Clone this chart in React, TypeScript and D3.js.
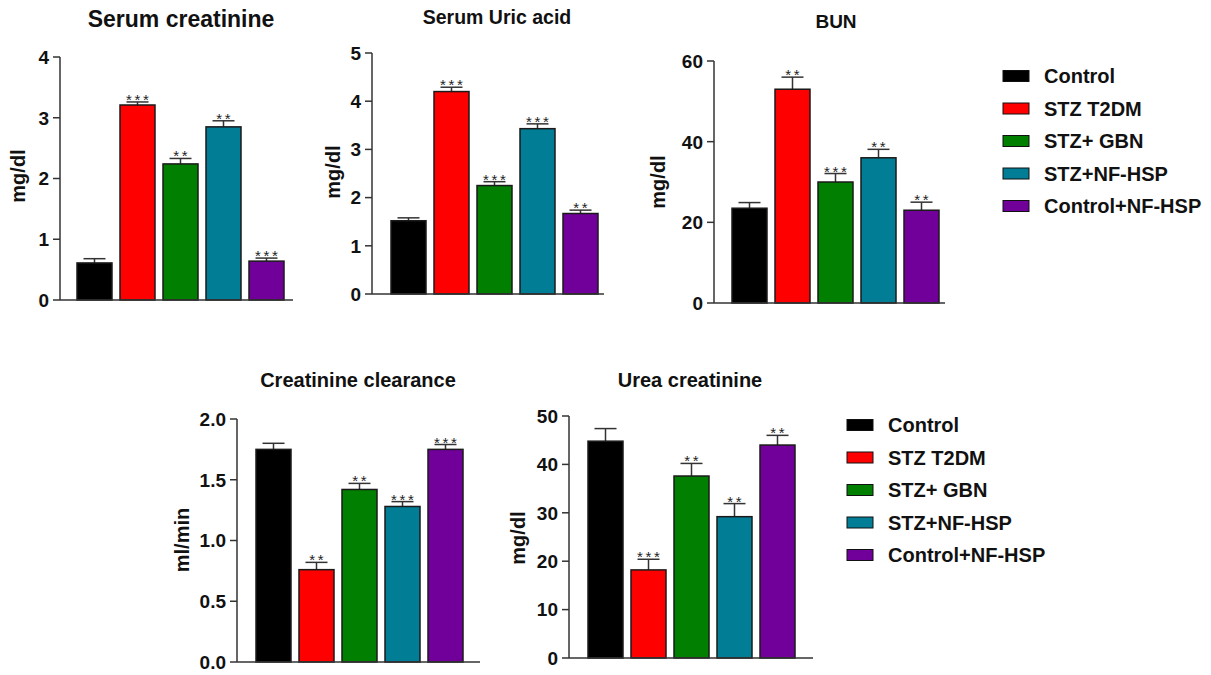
import React from "react";
import * as d3 from "d3";

const groups = ["Control", "STZ T2DM", "STZ+ GBN", "STZ+NF-HSP", "Control+NF-HSP"];
const groupColors = ["#000000", "#FF0000", "#007F00", "#017D96", "#71009A"];

const creatMeans = [0.61, 3.21, 2.24, 2.85, 0.64];
const creatErr = [0.07, 0.05, 0.09, 0.1, 0.05];
const creatStars = ["", "***", "**", "**", "***"];

const uricMeans = [1.52, 4.2, 2.25, 3.43, 1.67];
const uricErr = [0.06, 0.09, 0.08, 0.1, 0.07];
const uricStars = ["", "***", "***", "***", "**"];

const bunMeans = [23.5, 53, 30, 36, 23];
const bunErr = [1.4, 3, 2.1, 2.1, 2];
const bunStars = ["", "**", "***", "**", "**"];

const clearMeans = [1.75, 0.76, 1.42, 1.28, 1.75];
const clearErr = [0.05, 0.06, 0.05, 0.04, 0.04];
const clearStars = ["", "**", "**", "***", "***"];

const ureaMeans = [44.8, 18.2, 37.6, 29.2, 44];
const ureaErr = [2.6, 2.2, 2.6, 2.7, 2];
const ureaStars = ["", "***", "**", "**", "**"];

const creatTicks = [0, 1, 2, 3, 4];
const uricTicks = [0, 1, 2, 3, 4, 5];
const bunTicks = [0, 20, 40, 60];
const clearTicks = [0, 0.5, 1.0, 1.5, 2.0];
const ureaTicks = [0, 10, 20, 30, 40, 50];

const FONT = "'Liberation Sans', Arial, sans-serif";

type PanelProps = {
  title: string;
  titleSize: number;
  titleX: number;
  titleY: number;
  yLabel: string;
  yLabelX: number;
  yLabelY: number;
  means: number[];
  errs: number[];
  stars: string[];
  ticks: number[];
  fmt: (v: number) => string;
  axisX: number;
  axisEnd: number;
  barStart: number;
  y0: number;
  yTopPx: number;
};

function Panel(p: PanelProps) {
  const maxV = p.ticks[p.ticks.length - 1];
  const y = d3.scaleLinear().domain([0, maxV]).range([p.y0, p.yTopPx]);
  const x = d3
    .scaleBand<string>()
    .domain(groups)
    .range([p.barStart - 4, p.barStart + 211])
    .paddingInner(8 / 43)
    .paddingOuter(4 / 43);
  const bw = x.bandwidth();
  const axisColor = "#333";
  return (
    <g>
      <text
        x={p.titleX}
        y={p.titleY}
        textAnchor="middle"
        fontFamily={FONT}
        fontWeight="bold"
        fontSize={p.titleSize}
        fill="#111"
      >
        {p.title}
      </text>
      <text
        transform={`translate(${p.yLabelX},${p.yLabelY}) rotate(-90)`}
        textAnchor="middle"
        fontFamily={FONT}
        fontWeight="bold"
        fontSize={20}
        fill="#111"
      >
        {p.yLabel}
      </text>
      {p.means.map((m, i) => {
        const g = groups[i];
        const bx = x(g)!;
        const top = y(m);
        const et = y(m + p.errs[i]);
        const cx = bx + bw / 2;
        return (
          <g key={g}>
            <line x1={cx} x2={cx} y1={top} y2={et} stroke="#333" strokeWidth={1.5} />
            <line x1={cx - 11} x2={cx + 11} y1={et} y2={et} stroke="#333" strokeWidth={1.5} />
            <rect
              x={bx}
              y={top}
              width={bw}
              height={p.y0 - top}
              fill={groupColors[i]}
              stroke="#1a1a1a"
              strokeWidth={1.5}
            />
            {p.stars[i] && (
              <text
                x={cx + 1.3}
                y={et + 3}
                textAnchor="middle"
                fontFamily={FONT}
                fontSize={15}
                letterSpacing={2.7}
                fill="#222"
              >
                {p.stars[i]}
              </text>
            )}
          </g>
        );
      })}
      <line x1={p.axisX} x2={p.axisEnd} y1={p.y0} y2={p.y0} stroke={axisColor} strokeWidth={1.5} />
      <line x1={p.axisX} x2={p.axisX} y1={p.y0} y2={p.yTopPx} stroke={axisColor} strokeWidth={1.5} />
      {p.ticks.map((t) => (
        <g key={t}>
          <line x1={p.axisX - 7} x2={p.axisX} y1={y(t)} y2={y(t)} stroke={axisColor} strokeWidth={1.5} />
          <text
            x={p.axisX - 11}
            y={y(t)}
            dy="0.36em"
            textAnchor="end"
            fontFamily={FONT}
            fontWeight="bold"
            fontSize={19}
            fill="#111"
          >
            {p.fmt(t)}
          </text>
        </g>
      ))}
    </g>
  );
}

function Legend({ x, y, gap }: { x: number; y: number; gap: number }) {
  return (
    <g>
      {groups.map((g, i) => (
        <g key={g} transform={`translate(${x},${y + i * gap})`}>
          <rect x={0} y={-5.5} width={26} height={11} fill={groupColors[i]} stroke="#111" strokeWidth={1} />
          <text
            x={41}
            y={0}
            dy="0.36em"
            fontFamily={FONT}
            fontWeight="bold"
            fontSize={20}
            fill="#111"
          >
            {g}
          </text>
        </g>
      ))}
    </g>
  );
}

export default function App() {
  const intFmt = d3.format("d");
  const oneFmt = d3.format(".1f");
  return (
    <svg
      width={1211}
      height={675}
      style={{ position: "absolute", left: 0, top: 0, background: "#fff" }}
    >
      <rect width={1211} height={675} fill="#fff" />
      <Panel
        title="Serum creatinine"
        titleSize={23}
        titleX={181}
        titleY={27}
        yLabel="mg/dl"
        yLabelX={25}
        yLabelY={176}
        means={creatMeans}
        errs={creatErr}
        stars={creatStars}
        ticks={creatTicks}
        fmt={intFmt}
        axisX={60}
        axisEnd={293}
        barStart={77}
        y0={300}
        yTopPx={57}
      />
      <Panel
        title="Serum Uric acid"
        titleSize={19.5}
        titleX={497}
        titleY={24}
        yLabel="mg/dl"
        yLabelX={340}
        yLabelY={172}
        means={uricMeans}
        errs={uricErr}
        stars={uricStars}
        ticks={uricTicks}
        fmt={intFmt}
        axisX={372}
        axisEnd={604}
        barStart={391}
        y0={294}
        yTopPx={53}
      />
      <Panel
        title="BUN"
        titleSize={19}
        titleX={836}
        titleY={28}
        yLabel="mg/dl"
        yLabelX={665}
        yLabelY={182}
        means={bunMeans}
        errs={bunErr}
        stars={bunStars}
        ticks={bunTicks}
        fmt={intFmt}
        axisX={714}
        axisEnd={945}
        barStart={732}
        y0={303}
        yTopPx={61}
      />
      <Panel
        title="Creatinine clearance"
        titleSize={20}
        titleX={358}
        titleY={387}
        yLabel="ml/min"
        yLabelX={189}
        yLabelY={540}
        means={clearMeans}
        errs={clearErr}
        stars={clearStars}
        ticks={clearTicks}
        fmt={oneFmt}
        axisX={237}
        axisEnd={480}
        barStart={256}
        y0={662}
        yTopPx={419}
      />
      <Panel
        title="Urea creatinine"
        titleSize={20}
        titleX={690}
        titleY={387}
        yLabel="mg/dl"
        yLabelX={525}
        yLabelY={538}
        means={ureaMeans}
        errs={ureaErr}
        stars={ureaStars}
        ticks={ureaTicks}
        fmt={intFmt}
        axisX={569}
        axisEnd={813}
        barStart={588}
        y0={658}
        yTopPx={416}
      />
      <Legend x={1003} y={76} gap={32.5} />
      <Legend x={847} y={425} gap={32.5} />
    </svg>
  );
}
